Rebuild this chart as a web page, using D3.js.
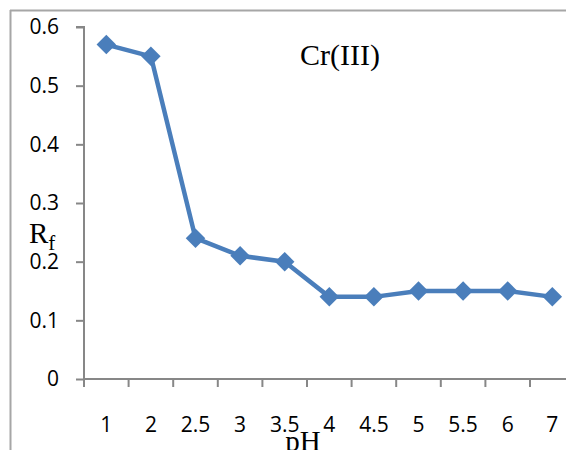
<!DOCTYPE html>
<html>
<head>
<meta charset="utf-8">
<script src="https://cdn.jsdelivr.net/npm/d3@7"></script>
<style>
  html, body { margin: 0; padding: 0; background: #fff; }
  svg { display: block; }
</style>
</head>
<body>
<svg id="chart" width="566" height="450"></svg>
<script>
// pH values (category axis) and retention factor Rf for Cr(III)
const categories = ["1", "2", "2.5", "3", "3.5", "4", "4.5", "5", "5.5", "6", "7"];
const rfValues = [0.57, 0.55, 0.24, 0.21, 0.20, 0.14, 0.14, 0.15, 0.15, 0.15, 0.14];
const yTicks = [0, 0.1, 0.2, 0.3, 0.4, 0.5, 0.6];

const svg = d3.select("#chart");
const plotLeft = 84, plotTop = 27, plotBottom = 379, step = 44.6;

const x = d3.scaleBand()
  .domain(categories)
  .range([plotLeft, plotLeft + step * categories.length])
  .paddingInner(0).paddingOuter(0);

const y = d3.scaleLinear().domain([0, 0.6]).range([plotBottom, plotTop]);

const axisColor = "#878787";
const tickFont = "'Open Sans', 'DejaVu Sans', sans-serif";
const serif = "'Liberation Serif', 'Times New Roman', serif";

// outer frame (top and left edges)
svg.append("line").attr("x1", 10).attr("x2", 566).attr("y1", 10.5).attr("y2", 10.5)
  .attr("stroke", "#a6a6a6").attr("stroke-width", 2);
svg.append("line").attr("x1", 10.5).attr("x2", 10.5).attr("y1", 10).attr("y2", 450)
  .attr("stroke", "#a6a6a6").attr("stroke-width", 2);

// y axis
const yAxis = svg.append("g")
  .attr("transform", `translate(${plotLeft},0)`)
  .call(d3.axisLeft(y).tickValues(yTicks).tickSize(8).tickPadding(17)
    .tickFormat(d => d === 0 ? "0" : d3.format(".1f")(d)));
yAxis.select(".domain").attr("stroke", axisColor).attr("stroke-width", 2)
  .attr("d", `M-8,${plotTop}H0V${plotBottom}`);
yAxis.selectAll(".tick line").attr("stroke", axisColor).attr("stroke-width", 2);
yAxis.selectAll(".tick text").attr("font-family", tickFont).attr("font-size", 21)
  .attr("fill", "#000");

// x axis: line with ticks at category boundaries
const xAxis = svg.append("g").attr("transform", `translate(0,${plotBottom})`);
xAxis.append("line").attr("x1", plotLeft).attr("x2", 566).attr("y1", 0).attr("y2", 0)
  .attr("stroke", axisColor).attr("stroke-width", 2);
const boundaries = categories.map(c => x(c)).concat([x.range()[1]]);
xAxis.selectAll("line.tk").data(boundaries).join("line").attr("class", "tk")
  .attr("x1", d => d).attr("x2", d => d).attr("y1", 0).attr("y2", 8)
  .attr("stroke", axisColor).attr("stroke-width", 2);
xAxis.selectAll("text").data(categories).join("text")
  .attr("x", d => x(d) + x.bandwidth() / 2)
  .attr("y", 53)
  .attr("text-anchor", "middle")
  .attr("font-family", tickFont).attr("font-size", 21).attr("fill", "#000")
  .text(d => d);

// data line and diamond markers
const color = "#4a7ebb";
const pts = categories.map((c, i) => [x(c) + x.bandwidth() / 2, y(rfValues[i])]);
svg.append("path").attr("d", d3.line()(pts))
  .attr("fill", "none").attr("stroke", color).attr("stroke-width", 4.5)
  .attr("stroke-linejoin", "round");
svg.selectAll("path.mk").data(pts).join("path").attr("class", "mk")
  .attr("d", d3.symbol(d3.symbolSquare, 190)())
  .attr("transform", d => `translate(${d[0]},${d[1]}) rotate(45)`)
  .attr("fill", color);

// labels
svg.append("text").attr("x", 300).attr("y", 65)
  .attr("font-family", serif).attr("font-size", 30).attr("fill", "#000")
  .text("Cr(III)");

const rf = svg.append("text").attr("x", 29).attr("y", 243)
  .attr("font-family", serif).attr("font-size", 29).attr("fill", "#000");
rf.append("tspan").text("R");
rf.append("tspan").attr("dy", 7).attr("font-size", 21).text("f");

svg.append("text").attr("x", 303).attr("y", 451).attr("text-anchor", "middle")
  .attr("font-family", serif).attr("font-size", 29).attr("fill", "#000")
  .text("pH");
</script>
</body>
</html>
